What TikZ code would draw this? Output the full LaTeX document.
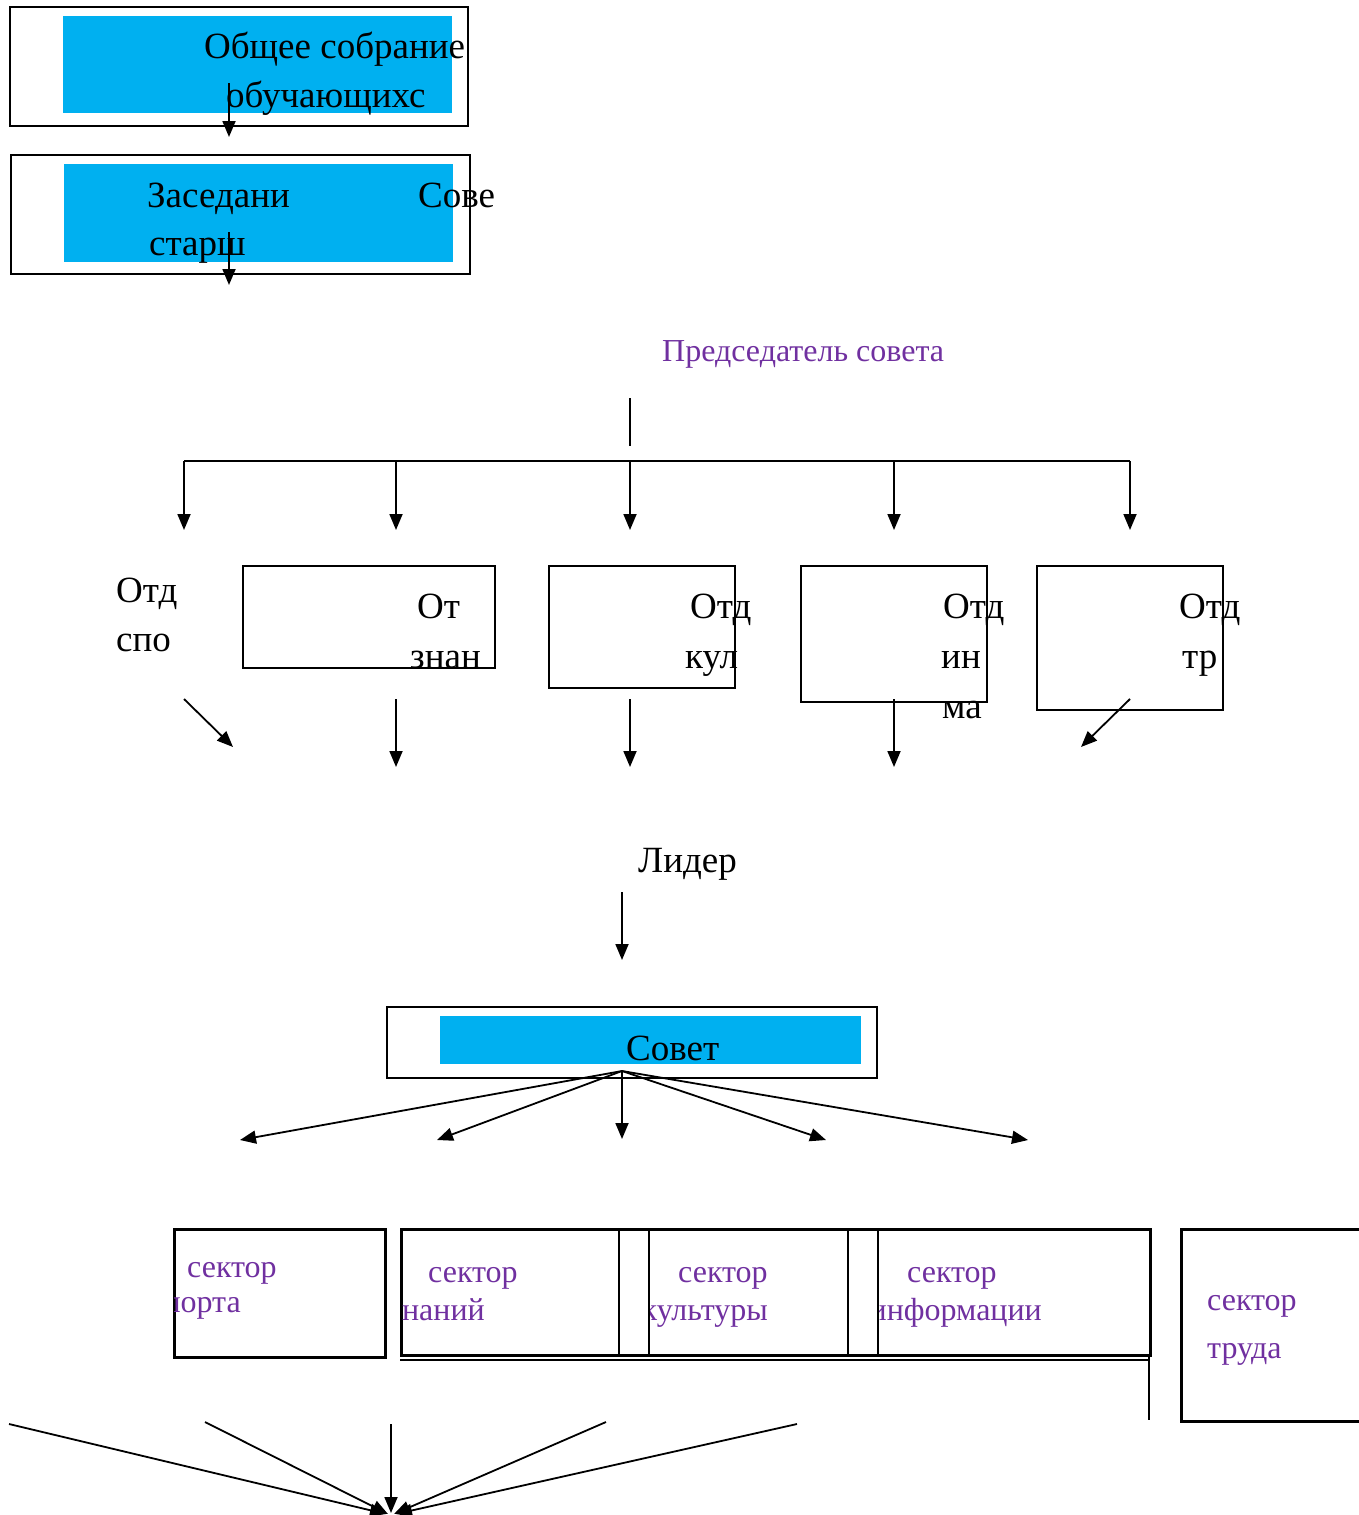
\documentclass[tikz,border=0pt]{standalone}
\usepackage{fontspec}
\setmainfont{Liberation Serif}
\usetikzlibrary{arrows.meta}
\definecolor{cblue}{HTML}{00B0F0}
\definecolor{cpurple}{HTML}{7030A0}
\begin{document}
\begin{tikzpicture}[x=1pt,y=-1pt,
  ln/.style={line width=1.8pt},
  thk/.style={line width=2.6pt},
  arr/.style={line width=1.8pt,-{Triangle[length=16pt,width=13pt]}},
  frame/.style={draw,line width=1.8pt,inner sep=0pt,anchor=north west},
  bframe/.style={draw,line width=2.6pt,inner sep=0pt,anchor=north west},
  fillb/.style={fill=cblue,inner sep=0pt,anchor=north west},
  bt/.style={anchor=base west,inner sep=0pt,font=\fontsize{37}{44}\selectfont},
  pt/.style={anchor=base west,inner sep=0pt,text=cpurple,font=\fontsize{32}{38}\selectfont},
  pte/.style={anchor=base east,inner sep=0pt,text=cpurple,font=\fontsize{32}{38}\selectfont},
]
\clip (0,0) rectangle (1359,1515);
\useasboundingbox (0,0) rectangle (1359,1515);

% ---- top boxes
\node (b1) [frame, minimum width=458pt, minimum height=119pt] at (9,6) {};
\node (b1f) [fillb, minimum width=389pt, minimum height=97pt] at (63,16) {};
\node (t1a) [bt] at (204,58) {Общее собрание};
\node (t1b) [bt] at (226,107) {обучающихс};
\coordinate (a1s) at (229,83); \coordinate (a1e) at (229,137);
\draw[arr] (a1s) -- (a1e);

\node (b2) [frame, minimum width=459pt, minimum height=119pt] at (10,154) {};
\node (b2f) [fillb, minimum width=389pt, minimum height=98pt] at (64,164) {};
\node (t2a) [bt] at (147,207) {Заседани};
\node (t2b) [bt] at (418,207) {Сове};
\node (t2c) [bt] at (149,255) {старш};
\coordinate (a2s) at (229,232); \coordinate (a2e) at (229,285);
\draw[arr] (a2s) -- (a2e);

% ---- chairman
\node (pred) [pt] at (662,361) {Председатель совета};
\coordinate (v1) at (630,398); \coordinate (v2) at (630,446);
\draw[ln] (v1) -- (v2);
\coordinate (hL) at (184,461); \coordinate (hR) at (1130,461);
\draw[ln] (hL) -- (hR);
\foreach \x [count=\i] in {184,396,630,894,1130}{
  \coordinate (ds\i) at (\x,461); \coordinate (de\i) at (\x,530);
  \draw[arr] (ds\i) -- (de\i);
}

% ---- departments
\node (o1a) [bt] at (116,602) {Отд};
\node (o1b) [bt] at (116,651) {спо};
\node (d2) [frame, minimum width=252pt, minimum height=102pt] at (242,565) {};
\node (o2a) [bt] at (417,618) {От};
\node (o2b) [bt] at (410,668) {знан};
\node (d3) [frame, minimum width=186pt, minimum height=122pt] at (548,565) {};
\node (o3a) [bt] at (690,618) {Отд};
\node (o3b) [bt] at (685,668) {кул};
\node (d4) [frame, minimum width=186pt, minimum height=136pt] at (800,565) {};
\node (o4a) [bt] at (943,618) {Отд};
\node (o4b) [bt] at (941,668) {ин};
\node (o4c) [bt] at (942,718) {ма};
\node (d5) [frame, minimum width=186pt, minimum height=144pt] at (1036,565) {};
\node (o5a) [bt] at (1179,618) {Отд};
\node (o5b) [bt] at (1182,668) {тр};

\coordinate (e1s) at (184,699); \coordinate (e1e) at (233,747);
\coordinate (e2s) at (396,699); \coordinate (e2e) at (396,767);
\coordinate (e3s) at (630,699); \coordinate (e3e) at (630,767);
\coordinate (e4s) at (894,699); \coordinate (e4e) at (894,767);
\coordinate (e5s) at (1130,699); \coordinate (e5e) at (1081,747);
\foreach \i in {1,...,5}{\draw[arr] (e\i s) -- (e\i e);}

% ---- leader
\node (lid) [bt] at (638,872) {Лидер};
\coordinate (l1) at (622,892); \coordinate (l2) at (622,960);
\draw[arr] (l1) -- (l2);

% ---- council
\node (sov) [frame, minimum width=490pt, minimum height=71pt] at (386,1006) {};
\node (sovf) [fillb, minimum width=421pt, minimum height=48pt] at (440,1016) {};
\node (sovt) [bt] at (626,1060) {Совет};
\coordinate (fc) at (622,1071);
\coordinate (f1) at (240,1140);
\coordinate (f2) at (437,1140);
\coordinate (f3) at (622,1139);
\coordinate (f4) at (826,1140);
\coordinate (f5) at (1028,1140);
\foreach \i in {1,...,5}{\draw[arr] (fc) -- (f\i);}

% ---- sectors
\node (sA) [bframe, minimum width=211pt, minimum height=128pt] at (173,1228) {};
\node (sB) [bframe, minimum width=749pt, minimum height=126pt] at (400,1228) {};
\node (sC) [bframe, minimum width=200pt, minimum height=192pt] at (1180,1228) {};
\coordinate (vb1t) at (619,1228); \coordinate (vb1b) at (619,1354);
\coordinate (vb2t) at (649,1228); \coordinate (vb2b) at (649,1354);
\coordinate (vb3t) at (848,1228); \coordinate (vb3b) at (848,1354);
\coordinate (vb4t) at (878,1228); \coordinate (vb4b) at (878,1354);
\foreach \i in {1,...,4}{\draw[thk] (vb\i t) -- (vb\i b);}
\coordinate (dl1) at (400,1360); \coordinate (dl2) at (1149,1360);
\draw[thk] (dl1) -- (dl2);
\coordinate (rv1) at (1149,1354); \coordinate (rv2) at (1149,1420);
\draw[thk] (rv1) -- (rv2);

\node (sAt) [pt] at (187,1277) {сектор};
\begin{scope}
  \clip (174,1229) rectangle (383,1355);
  \node (sAb) [pte] at (241,1312) {спорта};
\end{scope}
\node (sBt) [pt] at (428,1282) {сектор};
\begin{scope}
  \clip (401,1229) rectangle (618,1353);
  \node (sBb) [pte] at (485,1320) {знаний};
\end{scope}
\node (sCt) [pt] at (678,1282) {сектор};
\begin{scope}
  \clip (650,1229) rectangle (847,1353);
  \node (sCb) [pte] at (768,1320) {культуры};
\end{scope}
\node (sDt) [pt] at (907,1282) {сектор};
\begin{scope}
  \clip (879,1229) rectangle (1148,1353);
  \node (sDb) [pte] at (1042,1320) {информации};
\end{scope}
\node (sEt) [pt] at (1207,1310) {сектор};
\node (sEb) [pt] at (1207,1358) {труда};

% ---- bottom fan
\coordinate (g1) at (9,1424);
\coordinate (g2) at (205,1422);
\coordinate (g3) at (391,1424);
\coordinate (g4) at (606,1422);
\coordinate (g5) at (797,1424);
\coordinate (h1) at (386,1514);
\coordinate (h2) at (388,1514);
\coordinate (h3) at (391,1513);
\coordinate (h4) at (394,1514);
\coordinate (h5) at (396,1514);
\foreach \i in {1,...,5}{\draw[arr] (g\i) -- (h\i);}
\end{tikzpicture}
\end{document}
